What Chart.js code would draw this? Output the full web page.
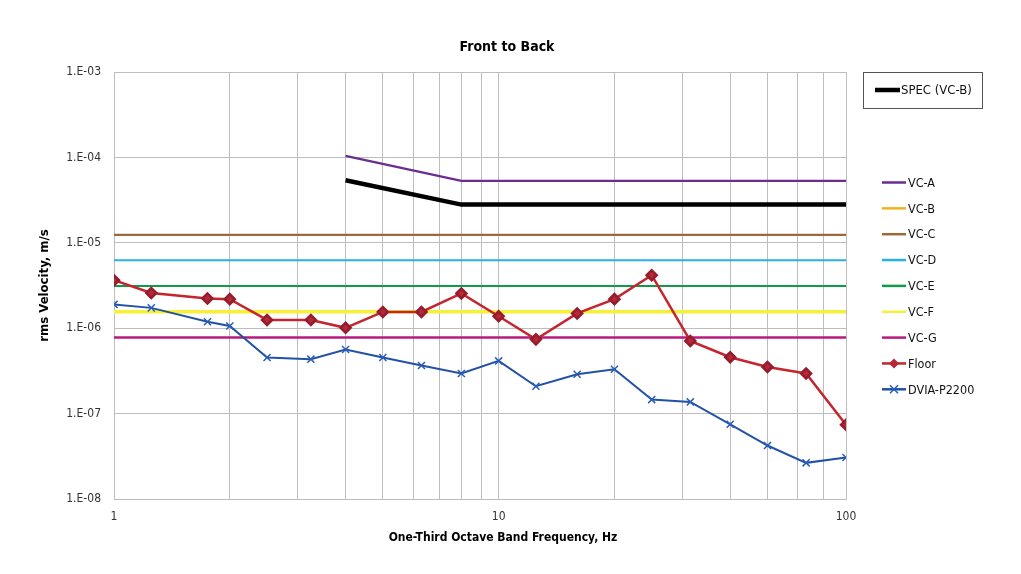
<!DOCTYPE html>
<html>
<head>
<meta charset="utf-8">
<title>Front to Back</title>
<script src="https://cdn.jsdelivr.net/npm/chart.js@4.4.1/dist/chart.umd.min.js"></script>
<style>
  body { margin: 0; background: #fff; }
  #wrap { width: 1021px; height: 574px; }
</style>
</head>
<body>
<div id="wrap"><canvas id="chart" width="1021" height="574"></canvas></div>
<script>
// one-third octave bands as they sit on the picture
const bandFreqs = [1, 1.25, 1.75, 2, 2.5, 3.25, 4, 5, 6.3, 8, 10, 12.5, 16, 20, 25, 31.5, 40, 50, 63, 80];
const floorVel = [3.65e-6, 2.59e-6, 2.23e-6, 2.19e-6, 1.25e-6, 1.25e-6, 1.01e-6, 1.55e-6, 1.55e-6, 2.55e-6,
                  1.38e-6, 7.4e-7, 1.49e-6, 2.19e-6, 4.17e-6, 7.1e-7, 4.57e-7, 3.52e-7, 2.95e-7, 7.4e-8];
const dviaVel = [1.9e-6, 1.73e-6, 1.19e-6, 1.06e-6, 4.54e-7, 4.34e-7, 5.63e-7, 4.54e-7, 3.66e-7, 2.95e-7,
                 4.14e-7, 2.09e-7, 2.89e-7, 3.31e-7, 1.46e-7, 1.37e-7, 7.5e-8, 4.23e-8, 2.65e-8, 3.06e-8];

// sloped criteria (4 Hz -> 8 Hz -> top band)
const slopeFreqs = [4, 8, 80];
const vcaVel = [1.04e-4, 5.3e-5, 5.3e-5];
const specVel = [5.4e-5, 2.8e-5, 2.8e-5];   // SPEC (VC-B), VC-B sits under it

// flat criteria across the whole range
const flatFreqs = [1, 80];
const flatNames = ['VC-C', 'VC-D', 'VC-E', 'VC-F', 'VC-G'];
const flatLevels = [1.24e-5, 6.25e-6, 3.12e-6, 1.56e-6, 7.8e-7];

const xTickValues = [1, 2, 3, 4, 5, 6, 7, 8, 9, 10, 20, 30, 40, 50, 60, 70, 80];
const xTickLabels = { 1: '1', 10: '10', 80: '100' };
const yTickValues = [1e-8, 1e-7, 1e-6, 1e-5, 1e-4, 1e-3];

const FONT = "'Liberation Sans Narrow', 'DejaVu Sans Condensed', 'Roboto', sans-serif";
const GRID = '#bdbdbd';

const colors = {
  'VC-A': '#6b2d8f', 'VC-B': '#f2b320', 'VC-C': '#9c6a3a', 'VC-D': '#27b2e3',
  'VC-E': '#119a4a', 'VC-F': '#f6f03a', 'VC-G': '#b8197f'
};
const widths = { 'VC-C': 2.2, 'VC-D': 2.2, 'VC-E': 2.2, 'VC-F': 3.5, 'VC-G': 2.5 };

function pts(xs, ys) { return xs.map((x, i) => ({ x: x, y: ys[i] })); }

const datasets = [];
datasets.push({ label: 'Floor', data: pts(bandFreqs, floorVel), borderColor: '#c4262e', borderWidth: 2.5,
  pointStyle: 'rectRot', pointRadius: 5, pointBackgroundColor: '#b3283a', pointBorderColor: '#951c2c', order: 0 });
datasets.push({ label: 'DVIA-P2200', data: pts(bandFreqs, dviaVel), borderColor: '#2252a6', borderWidth: 2,
  pointStyle: 'crossRot', pointRadius: 5, pointBorderWidth: 1.5, pointBorderColor: '#2a5cb8', order: 1 });
datasets.push({ label: 'SPEC (VC-B)', data: pts(slopeFreqs, specVel), borderColor: '#000', borderWidth: 4.5,
  pointRadius: 0, order: 2 });
datasets.push({ label: 'VC-A', data: pts(slopeFreqs, vcaVel), borderColor: colors['VC-A'], borderWidth: 2.2,
  pointRadius: 0, order: 3 });
datasets.push({ label: 'VC-B', data: pts(slopeFreqs, specVel), borderColor: colors['VC-B'], borderWidth: 2.5,
  pointRadius: 0, order: 4 });
flatNames.forEach((n, i) => {
  datasets.push({ label: n, data: pts(flatFreqs, [flatLevels[i], flatLevels[i]]), borderColor: colors[n],
    borderWidth: widths[n], pointRadius: 0, order: 5 + i });
});

// titles and the legend to the right, placed like the original
const sideLegend = {
  id: 'sideLegend',
  afterDraw(chart) {
    const ctx = chart.ctx;
    const a = chart.chartArea;
    const mid = (a.left + a.right) / 2;
    ctx.save();
    ctx.textAlign = 'center';
    ctx.textBaseline = 'middle';
    ctx.fillStyle = '#000';
    ctx.font = 'bold 14px ' + FONT;
    ctx.fillText('Front to Back', mid + 27, a.top - 25);
    ctx.font = 'bold 12px ' + FONT;
    ctx.fillText('One-Third Octave Band Frequency, Hz', mid + 23, a.bottom + 39);

    ctx.textAlign = 'left';
    // SPEC box
    const bx = a.right + 17, by = a.top, bw = 119, bh = 36;
    ctx.strokeStyle = '#555';
    ctx.lineWidth = 1;
    ctx.strokeRect(bx + 0.5, by + 0.5, bw, bh);
    ctx.strokeStyle = '#000';
    ctx.lineWidth = 4.5;
    ctx.beginPath();
    ctx.moveTo(bx + 12, by + 18); ctx.lineTo(bx + 37, by + 18); ctx.stroke();
    ctx.fillStyle = '#111';
    ctx.font = '13px ' + FONT;
    ctx.fillText('SPEC (VC-B)', bx + 38, by + 19);

    const names = ['VC-A', 'VC-B', 'VC-C', 'VC-D', 'VC-E', 'VC-F', 'VC-G', 'Floor', 'DVIA-P2200'];
    const lx = a.right + 36, ly = a.top + 110.5, step = 25.85;
    ctx.font = '12.5px ' + FONT;
    names.forEach((n, i) => {
      const ds = chart.data.datasets.find(d => d.label === n);
      const y = ly + i * step;
      ctx.strokeStyle = ds.borderColor;
      ctx.lineWidth = 2.5;
      ctx.beginPath();
      ctx.moveTo(lx, y); ctx.lineTo(lx + 24, y); ctx.stroke();
      const cx = lx + 12;
      if (n === 'Floor') {
        ctx.fillStyle = ds.pointBackgroundColor;
        ctx.beginPath();
        ctx.moveTo(cx, y - 5); ctx.lineTo(cx + 5, y); ctx.lineTo(cx, y + 5); ctx.lineTo(cx - 5, y);
        ctx.closePath(); ctx.fill();
      } else if (n === 'DVIA-P2200') {
        ctx.strokeStyle = ds.pointBorderColor;
        ctx.lineWidth = 1.5;
        ctx.beginPath();
        ctx.moveTo(cx - 4, y - 4); ctx.lineTo(cx + 4, y + 4);
        ctx.moveTo(cx + 4, y - 4); ctx.lineTo(cx - 4, y + 4);
        ctx.stroke();
      }
      ctx.fillStyle = '#111';
      ctx.fillText(n, lx + 26, y + 1);
    });
    ctx.restore();
  }
};

Chart.defaults.font.family = FONT;
Chart.defaults.color = '#222';

new Chart(document.getElementById('chart'), {
  type: 'line',
  data: { datasets: datasets },
  plugins: [sideLegend],
  options: {
    responsive: false,
    animation: false,
    layout: { padding: { left: 0, right: 175, top: 72, bottom: 0 } },
    elements: { line: { tension: 0 } },
    plugins: {
      legend: { display: false },
      tooltip: { enabled: false },
      title: { display: false }
    },
    scales: {
      x: {
        type: 'logarithmic', min: 1, max: 80,
        afterBuildTicks: s => { s.ticks = xTickValues.map(v => ({ value: v })); },
        afterFit: s => { s.height = 75; },
        grid: { color: GRID, lineWidth: 1, drawTicks: false },
        border: { color: GRID },
        ticks: {
          autoSkip: false, maxRotation: 0, padding: 11, color: '#333', font: { size: 12 },
          callback: v => xTickLabels[v] || ''
        }
      },
      y: {
        type: 'logarithmic', min: 1e-8, max: 1e-3,
        afterBuildTicks: s => { s.ticks = yTickValues.map(v => ({ value: v })); },
        afterFit: s => { s.width = 114; },
        grid: { color: GRID, lineWidth: 1, drawTicks: false },
        border: { color: GRID },
        ticks: {
          padding: 13, color: '#333', font: { size: 12 },
          callback: v => '1.E-' + String(-Math.round(Math.log10(v))).padStart(2, '0')
        },
        title: {
          display: true, text: 'rms Velocity, m/s', color: '#000',
          font: { size: 13, weight: 'bold' }, padding: { top: 37, bottom: 0 }
        }
      }
    }
  }
});
</script>
</body>
</html>
